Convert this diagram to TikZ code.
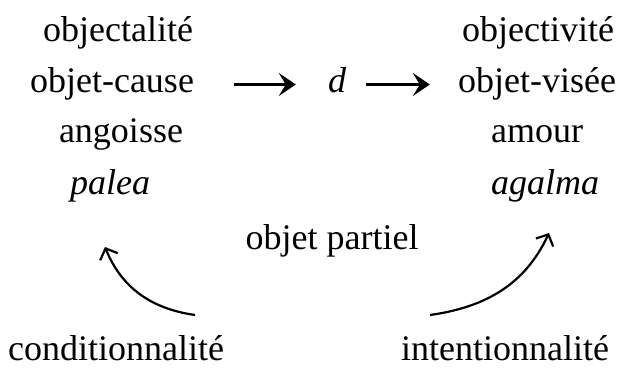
\documentclass[tikz,border=0pt]{standalone}
\usepackage{fontspec}
\setmainfont{Liberation Serif}
\usetikzlibrary{arrows.meta}
\begin{document}
\begin{tikzpicture}[x=1pt,y=1pt,
  lbl/.style={inner sep=0pt, anchor=base, text height=25pt, text depth=8pt, font=\fontsize{36}{40}\selectfont},
  blbl/.style={lbl, text depth=3pt},
  harrow/.style={line width=3.4pt, -{Stealth[length=17pt,width=23pt,inset=7pt]}},
  carrow/.style={line width=2.2pt, -{Straight Barb[length=9pt,width=19pt]}}]
\useasboundingbox (0,0) rectangle (621,369);
% left column
\node[lbl] (l1) at (118,327) {objectalité};
\node[lbl] (l2) at (112,276) {objet-cause};
\node[lbl] (l3) at (121,226) {angoisse};
\node[lbl] (l4) at (110,174) {\itshape palea};
% right column
\node[lbl] (r1) at (538,327) {objectivité};
\node[lbl] (r2) at (537,276) {objet-visée};
\node[lbl] (r3) at (537,226) {amour};
\node[lbl] (r4) at (545,174) {\itshape agalma};
% middle
\node[lbl] (d) at (337,276) {\itshape d};
\node[lbl] (op) at (332,119) {objet partiel};
% bottom
\node[blbl] (cond) at (116,8) {conditionnalité};
\node[blbl] (int) at (505,8) {intentionnalité};
% horizontal arrows
\draw[harrow, shorten <=40pt, shorten >=32pt] (l2.east) -- (d.west);
\draw[harrow, shorten <=20pt, shorten >=28pt] (d.east) -- (r2.west);
% curved arrows
\coordinate (c1) at (195,54);
\coordinate (t1) at (105,122);
\coordinate (c2) at (430,54);
\coordinate (t2) at (549,136);
\draw[carrow] (c1) to[out=172,in=-68] (t1);
\draw[carrow] (c2) to[out=8,in=-115] (t2);
\end{tikzpicture}
\end{document}
